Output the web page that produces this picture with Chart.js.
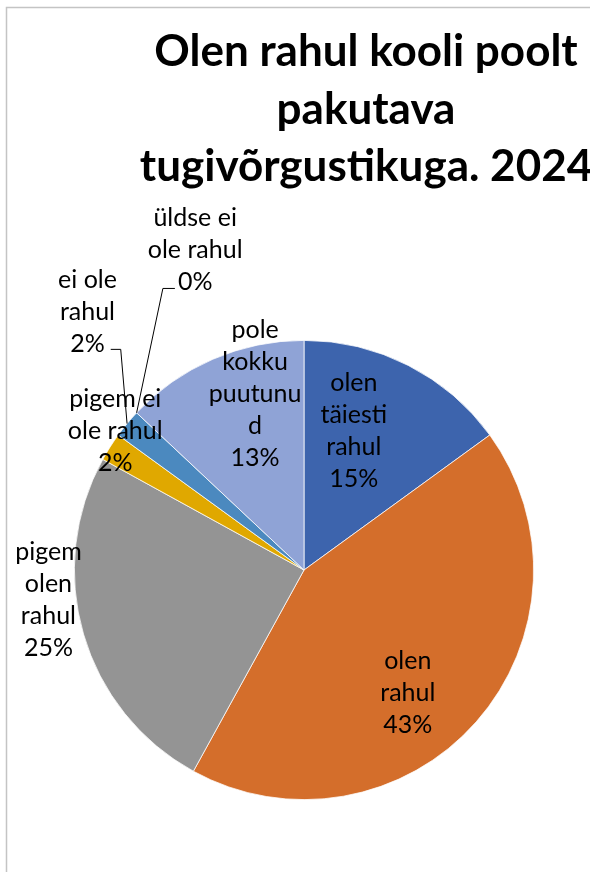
<!DOCTYPE html>
<html>
<head>
<meta charset="utf-8">
<script src="https://cdn.jsdelivr.net/npm/chart.js@4.4.1/dist/chart.umd.min.js"></script>
<style>
  html, body { margin: 0; padding: 0; background: #fff; }
  #wrap { width: 590px; height: 872px; }
</style>
</head>
<body>
<div id="wrap"><canvas id="pie" width="590" height="872"></canvas></div>
<script>
const titleLines = ["Olen rahul kooli poolt", "pakutava", "tugivõrgustikuga. 2024"];
const categories = [
  "olen täiesti rahul", "olen rahul", "pigem olen rahul", "pigem ei ole rahul",
  "ei ole rahul", "üldse ei ole rahul", "pole kokku puutunud"
];
const shares = [15, 43, 25, 2, 2, 0, 13];
const sliceColors = ["#3d64ad", "#d46e2b", "#949494", "#e0a800", "#4b89bf", "#63a03e", "#8fa3d6"];

// how each label is wrapped (narrow text boxes, as in the workbook)
const labelWrap = [
  ["olen", "täiesti", "rahul"],
  ["olen", "rahul"],
  ["pigem", "olen", "rahul"],
  ["pigem ei", "ole rahul"],
  ["ei ole", "rahul"],
  ["üldse ei", "ole rahul"],
  ["pole", "kokku", "puutunu", "d"]
];

// label box centre, relative to the pie centre in units of the radius
const labelSpots = [
  { dx: 0.217, dy: -0.604 },
  { dx: 0.452, dy: 0.535 },
  { dx: -1.113, dy: 0.130 },
  { dx: -0.822, dy: -0.604 },
  { dx: -0.943, dy: -1.122, leader: "right" },
  { dx: -0.474, dy: -1.396, leader: "left" },
  { dx: -0.213, dy: -0.765 }
];

const LABEL_FONT = "25px Lato";
const LINE_H = 32;

const frame = {
  id: "frame",
  beforeDraw(chart) {
    const ctx = chart.ctx;
    ctx.save();
    ctx.fillStyle = "#fff";
    ctx.fillRect(0, 0, chart.width, chart.height);
    ctx.strokeStyle = "#c4c4c4";
    ctx.lineWidth = 1.5;
    ctx.beginPath();
    ctx.moveTo(6.5, chart.height);
    ctx.lineTo(6.5, 7.5);
    ctx.lineTo(chart.width, 7.5);
    ctx.stroke();
    ctx.restore();
  }
};

const heading = {
  id: "heading",
  afterDraw(chart) {
    const ctx = chart.ctx;
    ctx.save();
    ctx.font = "bold 44px Lato";
    ctx.fillStyle = "#000";
    ctx.textAlign = "center";
    ctx.textBaseline = "alphabetic";
    titleLines.forEach((t, i) => ctx.fillText(t, 366, 66 + i * 57.5));
    ctx.restore();
  }
};

const sliceLabels = {
  id: "sliceLabels",
  afterDatasetsDraw(chart) {
    const ctx = chart.ctx;
    const meta = chart.getDatasetMeta(0);
    ctx.save();
    ctx.font = LABEL_FONT;
    ctx.fillStyle = "#000";
    ctx.strokeStyle = "#000";
    ctx.lineWidth = 1;
    ctx.textAlign = "center";
    ctx.textBaseline = "middle";
    meta.data.forEach((arc, i) => {
      const { x, y, outerRadius, startAngle, endAngle } = arc.getProps(["x", "y", "outerRadius", "startAngle", "endAngle"], true);
      const spot = labelSpots[i];
      const cx = x + spot.dx * outerRadius;
      const cy = y + spot.dy * outerRadius;
      const lines = labelWrap[i].concat([shares[i] + "%"]);
      const top = cy - (lines.length - 1) * LINE_H / 2;
      lines.forEach((ln, k) => ctx.fillText(ln, cx, top + k * LINE_H));

      if (spot.leader) {
        const mid = (startAngle + endAngle) / 2;
        const ex = x + Math.cos(mid) * outerRadius;
        const ey = y + Math.sin(mid) * outerRadius;
        const last = lines[lines.length - 1];
        const w = ctx.measureText(last).width;
        const ly = top + (lines.length - 1) * LINE_H;
        ctx.beginPath();
        if (spot.leader === "right") {
          const x0 = cx + w / 2 + 6;
          ctx.moveTo(x0, ly + 5);
          ctx.lineTo(x0 + 10, ly + 5);
          ctx.lineTo(ex, ey);
        } else {
          const x0 = cx - w / 2 - 3;
          ctx.moveTo(x0, ly + 7);
          ctx.lineTo(x0 - 12, ly + 7);
          ctx.lineTo(ex, ey);
        }
        ctx.stroke();
      }
    });
    ctx.restore();
  }
};

new Chart(document.getElementById("pie"), {
  type: "pie",
  data: {
    labels: categories,
    datasets: [{
      data: shares,
      backgroundColor: sliceColors,
      borderColor: "#fff",
      borderWidth: 0.75
    }]
  },
  options: {
    responsive: false,
    devicePixelRatio: 1,
    animation: false,
    layout: { padding: { left: 74, right: 56, top: 340, bottom: 72 } },
    plugins: {
      legend: { display: false },
      tooltip: { enabled: false },
      title: { display: false }
    }
  },
  plugins: [frame, heading, sliceLabels]
});
</script>
</body>
</html>
